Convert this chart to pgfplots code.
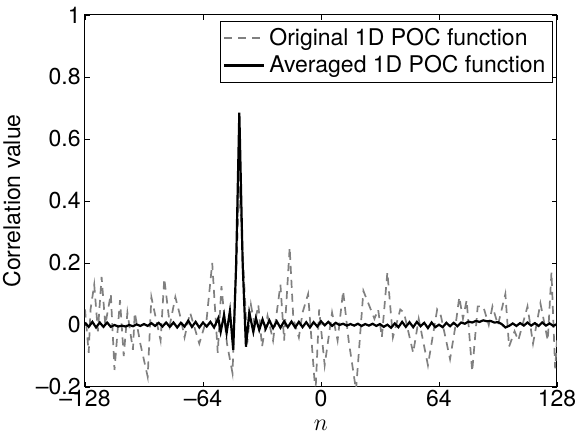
\documentclass[border=0pt]{standalone}
\usepackage{fontspec}
\setmainfont{TeX Gyre Heros}
\usepackage{pgfplots}
\pgfplotsset{compat=1.18}
\begin{document}
\begin{tikzpicture}
\useasboundingbox (-42.5pt,-23pt) rectangle (245pt,193.5pt);
\begin{axis}[
  at={(0,0)}, anchor=south west,
  scale only axis, width=236pt, height=186pt,
  xmin=-128, xmax=128, ymin=-0.2, ymax=1,
  xtick={-128,-64,0,64,128}, xticklabels={–128,–64,0,64,128},
  ytick={-0.2,0,0.2,0.4,0.6,0.8,1}, yticklabels={–0.2,0,0.2,0.4,0.6,0.8,1},
  tick align=inside, major tick length=2.5pt,
  tick style={black, line width=0.4pt},
  axis line style={line width=0.5pt},
  xticklabel style={font=\fontsize{11.5}{13}\selectfont, inner sep=1.5pt},
  yticklabel style={font=\fontsize{11.5}{13}\selectfont, inner sep=2pt},
  xlabel={$n$},
  xlabel style={font=\fontsize{12}{13}\selectfont, at={(axis description cs:0.5,-0.103)}, anchor=center},
  ylabel={Correlation value},
  ylabel style={font=\fontsize{11.5}{13}\selectfont, at={(axis description cs:-0.155,0.5)}, anchor=center},
  legend style={at={(1,1)}, anchor=north east, xshift=-2pt, yshift=-3pt,
    draw=black, line width=0.5pt, font=\fontsize{11.5}{13}\selectfont,
    inner xsep=1.5pt, inner ysep=1.5pt, row sep=0pt,
    nodes={inner xsep=2pt, inner ysep=1.8pt}},
  legend cell align=left,
  legend image code/.code={\draw[#1] (0cm,0cm) -- (0.7cm,0cm);},
]
\addplot[gray, line width=0.85pt, dash pattern=on 4pt off 3pt] coordinates {
(-128,0.05) (-126,-0.09) (-125,0.05) (-123,0.13) (-121,-0.02) (-119,0.155) (-117,0.0)
(-114,0.10) (-112,-0.145) (-109,0.08) (-107,-0.10) (-105,0.04) (-102,-0.08) (-101,0.04)
(-98,-0.06) (-94,-0.167) (-92,0.09) (-87,-0.05) (-85,0.15) (-82,0.0) (-79,0.09) (-76,0.02)
(-74,-0.04) (-71,0.04) (-68,-0.02) (-66,-0.06) (-62,0.02) (-59,0.20) (-56,-0.09) (-54,0.125)
(-51,-0.06) (-48,-0.155) (-44.3,0.45) (-40,-0.06) (-38,0.065) (-36,0.0) (-34,0.065) (-32,-0.07)
(-29,0.03) (-26,-0.05) (-22,0.13) (-20,-0.05) (-17,0.25) (-15,0.02) (-12,-0.04) (-10,0.04)
(-7,0.10) (-3,-0.22) (-1,0.05) (2,-0.13) (6,0.04) (9,-0.05) (12,0.11) (15,-0.05) (19,-0.21)
(23,0.11) (27,0.05) (29,0.02) (31,0.05) (33,-0.04) (36,0.17) (39,-0.04) (43,0.05) (45,0.04)
(50,-0.09) (53,0.02) (58,-0.13) (63,0.05) (65,0.03) (70,-0.11) (73,0.0) (75,0.09) (77,0.02)
(79,0.08) (82,-0.15) (85,0.06) (88,0.06) (91,0.0) (93,0.06) (96,0.0) (100,0.10) (102,-0.07)
(105,-0.02) (107,-0.05) (112,0.06) (115,-0.06) (119,0.07) (123,-0.05) (125,0.17) (127,-0.14)
(128,-0.05)
};
\addlegendentry{Original 1D POC function}
\addplot[black, line width=1.1pt] coordinates {
(-128,0.008) (-126,-0.006) (-124,0.010) (-122,-0.008) (-120,0.008) (-118,-0.006) (-116,0.008)
(-114,-0.006) (-112,0.0) (-110,-0.005) (-108,-0.002) (-106,-0.005) (-104,0.0) (-102,-0.004)
(-100,0.002) (-98,-0.003) (-96,0.003) (-94,-0.003) (-92,0.006) (-90,-0.003) (-88,0.007)
(-86,-0.005) (-84,0.008) (-82,-0.006) (-80,0.008) (-78,-0.008) (-76,0.007) (-74,-0.005)
(-72,0.014) (-70,-0.006) (-68,0.010) (-66,-0.008) (-64,0.008) (-62,-0.005) (-60,0.010)
(-58,-0.008) (-55.7,0.022) (-54.4,-0.022) (-52.6,0.032) (-51.2,-0.026) (-49.4,0.045)
(-47.6,-0.08) (-46.0,0.2) (-44.3,0.685) (-42.5,0.2) (-40.7,-0.07) (-38.9,0.04)
(-36.7,-0.022) (-35.3,0.022) (-33.5,-0.016) (-31.7,0.018) (-30,-0.012) (-28,0.015)
(-26,-0.010) (-24,0.012) (-22,-0.009) (-20,0.012) (-18,-0.007) (-16,0.011) (-14,-0.008)
(-12,0.010) (-10,-0.007) (-8,0.009) (-6,-0.008) (-4,0.009) (-2,-0.005) (0,0.012) (2,-0.001)
(4,0.010) (6,-0.003) (8,0.007) (10,0.0) (12,0.004) (14,-0.002) (16,0.003) (18,-0.002)
(20,0.004) (22,-0.003) (24,0.003) (26,-0.002) (28,0.004) (30,-0.003) (32,0.003) (34,-0.006)
(36,0.001) (38,-0.009) (40,0.005) (42,-0.007) (44,0.010) (46,-0.006) (48,0.009) (50,-0.007)
(52,0.010) (54,-0.004) (56,0.007) (58,-0.010) (60,0.008) (62,-0.007) (64,0.001) (66,-0.007)
(68,0.007) (70,-0.004) (72,0.007) (74,-0.004) (76,0.008) (78,0.004) (80,0.011) (82,0.008)
(84,0.013) (86,0.010) (88,0.015) (90,0.012) (92,0.013) (94,0.008) (96,0.009) (98,0.003)
(100,-0.008) (102,-0.003) (104,0.005) (106,-0.003) (108,0.006) (110,-0.002) (112,0.008)
(114,-0.002) (116,0.006) (118,-0.003) (120,0.008) (122,-0.002) (124,0.005) (126,-0.003)
(128,0.003)
};
\addlegendentry{Averaged 1D POC function}
\end{axis}
\end{tikzpicture}
\end{document}
